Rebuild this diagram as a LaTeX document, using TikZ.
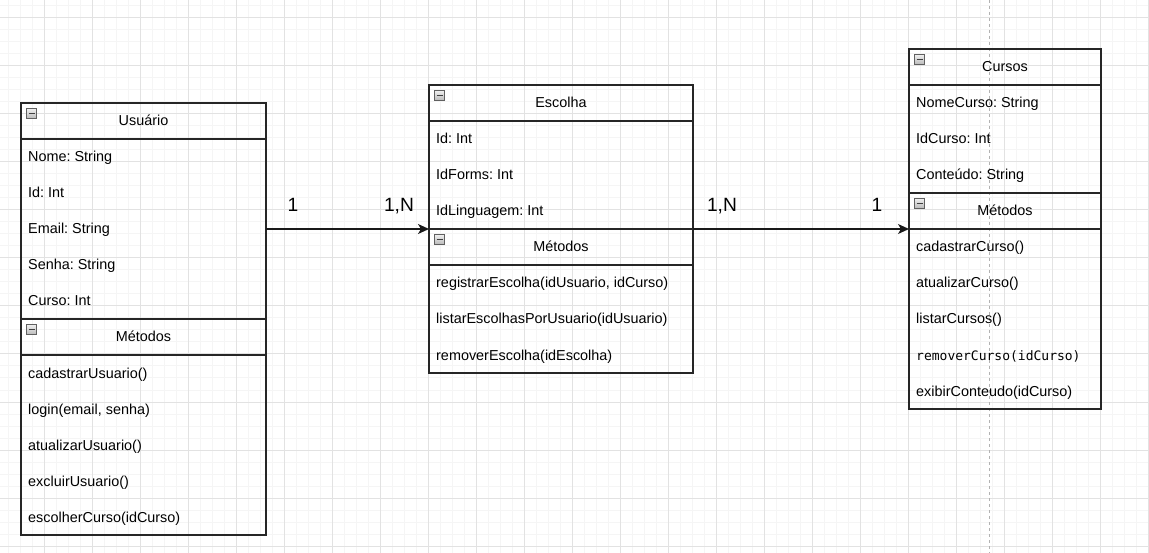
\documentclass[tikz,border=0pt]{standalone}
\usepackage{fontspec}
\setmainfont{Liberation Sans}
\newfontfamily\monof{DejaVu Sans Mono}
\usetikzlibrary{arrows.meta}
\definecolor{gridmaj}{HTML}{E2E2E2}
\definecolor{gridmin}{HTML}{F5F5F5}
\definecolor{boxc}{HTML}{262626}
\frenchspacing
\newcommand\minusicon[1]{%
  \draw[shift={(#1.north west)}, draw=gray!75!black, top color=gray!12, bottom color=gray!55, line width=0.8pt] (5.5,5.5) rectangle (15.5,15.5);
  \draw[shift={(#1.north west)}, line width=1.6pt, draw=black!75] (7.5,10.5) -- (13.5,10.5);}
\begin{document}
\begin{tikzpicture}[x=1pt,y=-1pt,
  comp/.style={rectangle, draw=boxc, line width=1.6pt, anchor=north west, inner sep=0pt, outer sep=0pt, minimum height=#1},
  rowtext/.style={anchor=base west, inner sep=0pt, font=\fontsize{14.4pt}{17pt}\selectfont, text=black},
  headtext/.style={anchor=base, inner sep=0pt, font=\fontsize{14.4pt}{17pt}\selectfont, text=black},
  lbl/.style={anchor=base, inner sep=0pt, font=\fontsize{19.2pt}{22pt}\selectfont, text=black},
  conn/.style={draw=black!90, line width=1.5pt, -{Stealth[length=11pt,width=10pt,inset=3pt]}}]
% background and grid
\fill[white] (0,0) rectangle (1149,553);
\useasboundingbox (0,0) rectangle (1149,553);
\foreach \x in {8,20,...,1148} \draw[gridmin, line width=1pt] (\x,0) -- (\x,553);
\foreach \y in {6,18,...,552} \draw[gridmin, line width=1pt] (0,\y) -- (1149,\y);
\foreach \x in {44,92,...,1148} \draw[gridmaj, line width=1pt] (\x,0) -- (\x,553);
\foreach \y in {18,66,...,546} \draw[gridmaj, line width=1pt] (0,\y) -- (1149,\y);
\draw[gray!60, line width=1pt, dash pattern=on 3pt off 3pt] (989.5,0) -- (989.5,553);

% ---------- Usuario ----------
\node[comp=36pt, minimum width=245pt] (uh) at (21,103) {};
\node[comp=180pt, minimum width=245pt] (ua) at (21,139) {};
\node[comp=36pt, minimum width=245pt] (umh) at (21,319) {};
\node[comp=180pt, minimum width=245pt] (um) at (21,355) {};
\minusicon{uh}
\minusicon{umh}
\node[headtext] (uht) at (143.5,126) {Usuário};
\node[rowtext] (ua1) at (28,162) {Nome: String};
\node[rowtext] (ua2) at (28,198) {Id: Int};
\node[rowtext] (ua3) at (28,234) {Email: String};
\node[rowtext] (ua4) at (28,270) {Senha: String};
\node[rowtext] (ua5) at (28,306) {Curso: Int};
\node[headtext] (umht) at (143.5,342) {Métodos};
\node[rowtext] (um1) at (28,378) {cadastrarUsuario()};
\node[rowtext] (um2) at (28,414) {login(email, senha)};
\node[rowtext] (um3) at (28,450) {atualizarUsuario()};
\node[rowtext] (um4) at (28,486) {excluirUsuario()};
\node[rowtext] (um5) at (28,522) {escolherCurso(idCurso)};

% ---------- Escolha ----------
\node[comp=36pt, minimum width=264pt] (eh) at (429,85) {};
\node[comp=108pt, minimum width=264pt] (ea) at (429,121) {};
\node[comp=36pt, minimum width=264pt] (emh) at (429,229) {};
\node[comp=108pt, minimum width=264pt] (em) at (429,265) {};
\minusicon{eh}
\minusicon{emh}
\node[headtext] (eht) at (561,108) {Escolha};
\node[rowtext] (ea1) at (436,144) {Id: Int};
\node[rowtext] (ea2) at (436,180) {IdForms: Int};
\node[rowtext] (ea3) at (436,216) {IdLinguagem: Int};
\node[headtext] (emht) at (561,252) {Métodos};
\node[rowtext] (em1) at (436,288) {registrarEscolha(idUsuario, idCurso)};
\node[rowtext] (em2) at (436,324) {listarEscolhasPorUsuario(idUsuario)};
\node[rowtext] (em3) at (436,360) {removerEscolha(idEscolha)};

% ---------- Cursos ----------
\node[comp=36pt, minimum width=192pt] (ch) at (909,49) {};
\node[comp=108pt, minimum width=192pt] (ca) at (909,85) {};
\node[comp=36pt, minimum width=192pt] (cmh) at (909,193) {};
\node[comp=180pt, minimum width=192pt] (cm) at (909,229) {};
\minusicon{ch}
\minusicon{cmh}
\node[headtext] (cht) at (1005,72) {Cursos};
\node[rowtext] (ca1) at (916,108) {NomeCurso: String};
\node[rowtext] (ca2) at (916,144) {IdCurso: Int};
\node[rowtext] (ca3) at (916,180) {Conteúdo: String};
\node[headtext] (cmht) at (1005,216) {Métodos};
\node[rowtext] (cm1) at (916,252) {cadastrarCurso()};
\node[rowtext] (cm2) at (916,288) {atualizarCurso()};
\node[rowtext] (cm3) at (916,324) {listarCursos()};
\node[rowtext, font=\fontsize{13pt}{16pt}\monof] (cm4) at (916,360) {removerCurso(idCurso)};
\node[rowtext] (cm5) at (916,396) {exibirConteudo(idCurso)};

% ---------- connectors ----------
\draw[conn] (ua.east) -- (emh.north west);
\draw[conn] (emh.north east) -- (cm.north west);
\node[lbl] (l1) at (293,212) {1};
\node[lbl] (l2) at (399,212) {1,N};
\node[lbl] (l3) at (722,212) {1,N};
\node[lbl] (l4) at (877,212) {1};
\end{tikzpicture}
\end{document}
